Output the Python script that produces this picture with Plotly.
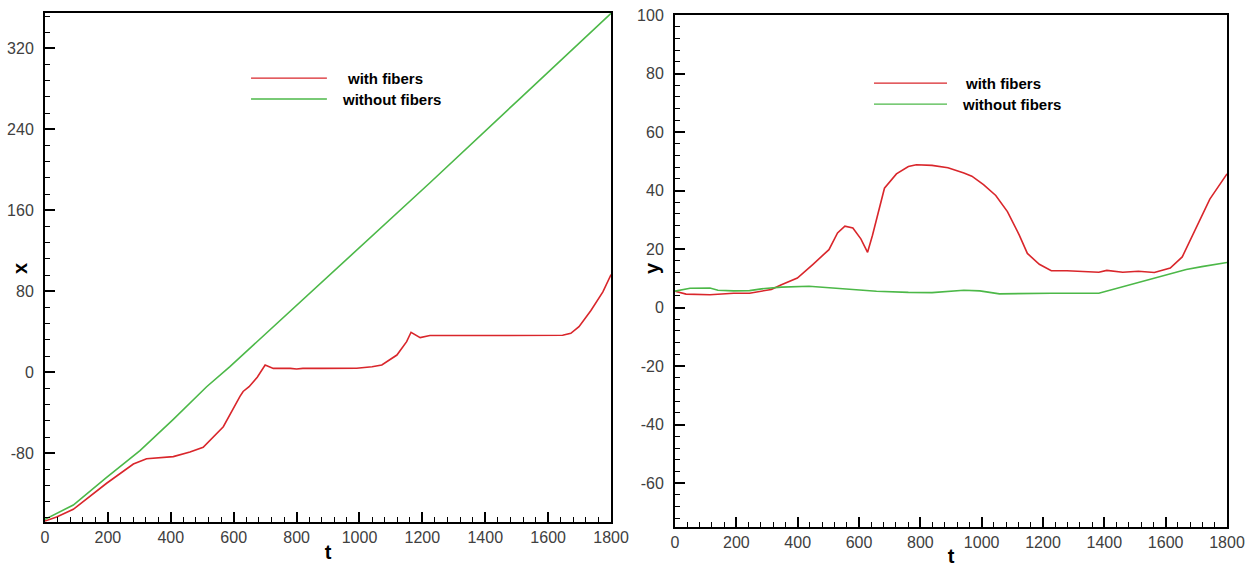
import plotly.graph_objects as go

# ---- data: left panel (x vs t) ----
t_x_with = [0, 37, 90, 196, 281, 323, 408, 461, 503, 567, 620, 630, 649, 675, 700, 726, 780, 800, 820, 850, 880, 991, 1040, 1071, 1087, 1119, 1150, 1164, 1193, 1224, 1400, 1621, 1646, 1672, 1698, 1736, 1774, 1800]
x_with = [-147, -143, -135.4, -109.7, -90.7, -85.4, -83.4, -78.8, -74.2, -53.8, -23.9, -19, -14.3, -5, 7.2, 3.8, 3.8, 3.2, 3.8, 3.5, 3.8, 4, 5.5, 7.2, 10.4, 17, 30.2, 39.5, 34.2, 36.3, 36.3, 36.3, 36.5, 38.5, 45, 61, 79.4, 96.5]

t_x_without = [0, 90, 196, 302, 408, 514, 588, 800, 1000, 1225, 1511, 1800]
x_without = [-145.3, -131.2, -103.8, -77.5, -46.5, -14.3, 5.5, 66, 123, 187.5, 270.7, 354.7]

# ---- data: right panel (y vs t) ----
t_y_with = [0, 36, 114, 191, 243, 314, 347, 399, 450, 502, 530, 554, 580, 606, 628, 644, 683, 722, 761, 787, 838, 890, 942, 968, 1006, 1046, 1084, 1123, 1149, 1188, 1227, 1278, 1382, 1408, 1460, 1511, 1563, 1615, 1654, 1693, 1744, 1800]
y_with = [5.6, 4.6, 4.4, 4.9, 4.9, 6.2, 7.8, 10.1, 14.8, 19.8, 25.5, 27.8, 27.2, 23.5, 18.9, 24.7, 40.8, 45.7, 48.2, 48.8, 48.6, 47.8, 46, 44.9, 42, 38.3, 32.8, 24.7, 18.5, 14.8, 12.6, 12.6, 12.1, 12.7, 12.1, 12.4, 12, 13.5, 17.3, 26, 37.1, 45.7]

t_y_without = [0, 49, 114, 140, 191, 243, 282, 347, 437, 502, 580, 657, 761, 838, 942, 994, 1058, 1149, 1227, 1382, 1447, 1511, 1589, 1667, 1718, 1800]
y_without = [5.6, 6.6, 6.7, 5.9, 5.7, 5.8, 6.4, 7.0, 7.3, 6.8, 6.2, 5.6, 5.2, 5.1, 5.9, 5.7, 4.7, 4.9, 4.9, 4.9, 6.8, 8.7, 10.9, 13, 14, 15.4]

series_names = ["with fibers", "without fibers"]
t_tickvals = [0, 200, 400, 600, 800, 1000, 1200, 1400, 1600, 1800]
x_tickvals = [-80, 0, 80, 160, 240, 320]
y_tickvals = [-60, -40, -20, 0, 20, 40, 60, 80, 100]
axis_titles = ["t", "x", "y"]

RED = "#d9262b"
GREEN = "#4cb848"

fig = go.Figure()
fig.add_trace(go.Scatter(x=t_x_with, y=x_with, mode="lines", name=series_names[0],
                         line=dict(color=RED, width=1.6), xaxis="x", yaxis="y", showlegend=False))
fig.add_trace(go.Scatter(x=t_x_without, y=x_without, mode="lines", name=series_names[1],
                         line=dict(color=GREEN, width=1.6), xaxis="x", yaxis="y", showlegend=False))
fig.add_trace(go.Scatter(x=t_y_with, y=y_with, mode="lines", name=series_names[0],
                         line=dict(color=RED, width=1.6), xaxis="x2", yaxis="y2", showlegend=False))
fig.add_trace(go.Scatter(x=t_y_without, y=y_without, mode="lines", name=series_names[1],
                         line=dict(color=GREEN, width=1.6), xaxis="x2", yaxis="y2", showlegend=False))

FONT = "Liberation Sans, Arial, sans-serif"
tickfont = dict(family=FONT, size=16, color="#404040")
titlefont = dict(family=FONT, size=20, color="black", weight="bold")

common = dict(showline=True, linecolor="black", linewidth=2, mirror=True,
              ticks="inside", ticklen=10, tickwidth=2, tickcolor="black",
              showgrid=False, zeroline=False, tickfont=tickfont, automargin=False)

def labels(vals):
    return [str(v) for v in vals]

def xaxis_cfg(domain, anchor):
    return dict(common, domain=domain, anchor=anchor, range=[0, 1800],
                tickvals=t_tickvals, ticktext=labels(t_tickvals),
                minor=dict(ticks="inside", ticklen=5, tickwidth=1, tickcolor="black", dtick=40, tick0=0, showgrid=False),
                title=dict(text=axis_titles[0], font=titlefont, standoff=0))

fig.update_layout(
    width=1254, height=567,
    margin=dict(l=45, r=27, t=13, b=40),
    paper_bgcolor="white", plot_bgcolor="white",
    xaxis=xaxis_cfg([0, 0.4789], "y"),
    yaxis=dict(common, domain=[0.0097, 1], anchor="x", range=[-148, 355],
               tickvals=x_tickvals, ticktext=labels(x_tickvals), ticklabelstandoff=6,
               minor=dict(ticks="inside", ticklen=5, tickwidth=1, tickcolor="black", dtick=16, tick0=0, showgrid=False)),
    xaxis2=xaxis_cfg([0.533, 1], "y2"),
    yaxis2=dict(common, domain=[0, 0.9961], anchor="x2", range=[-75, 100],
                tickvals=y_tickvals, ticktext=labels(y_tickvals), ticklabelstandoff=6,
                minor=dict(ticks="inside", ticklen=5, tickwidth=1, tickcolor="black", dtick=4, tick0=0, showgrid=False)),
)

# y-axis titles (placed close to the tick-label column as in the original)
fig.add_annotation(xref="paper", yref="paper", x=-0.0212, y=0.504, text=axis_titles[1], textangle=-90,
                   showarrow=False, xanchor="center", yanchor="middle", font=titlefont)
fig.add_annotation(xref="paper", yref="paper", x=0.5135, y=0.504, text=axis_titles[2], textangle=-90,
                   showarrow=False, xanchor="center", yanchor="middle", font=titlefont)

legfont = dict(family=FONT, size=15, color="black", weight="bold")
legends = [
    ("x domain", "y domain", [0.364, 0.498], [0.872, 0.831], [0.530, 0.521]),
    ("x2 domain", "y2 domain", [0.3605, 0.4928], [0.867, 0.826], [0.5217, 0.5163]),
]
colors = [RED, GREEN]
for xref, yref, (x0, x1), ys, xts in legends:
    for name, col, yy, xt in zip(series_names, colors, ys, xts):
        fig.add_shape(type="line", xref=xref, yref=yref, x0=x0, x1=x1, y0=yy, y1=yy,
                      line=dict(color=col, width=1.3))
        fig.add_annotation(xref=xref, yref=yref, x=xt, y=yy, text=name, showarrow=False,
                           xanchor="left", yanchor="middle", font=legfont)

fig.write_html("out.html")
